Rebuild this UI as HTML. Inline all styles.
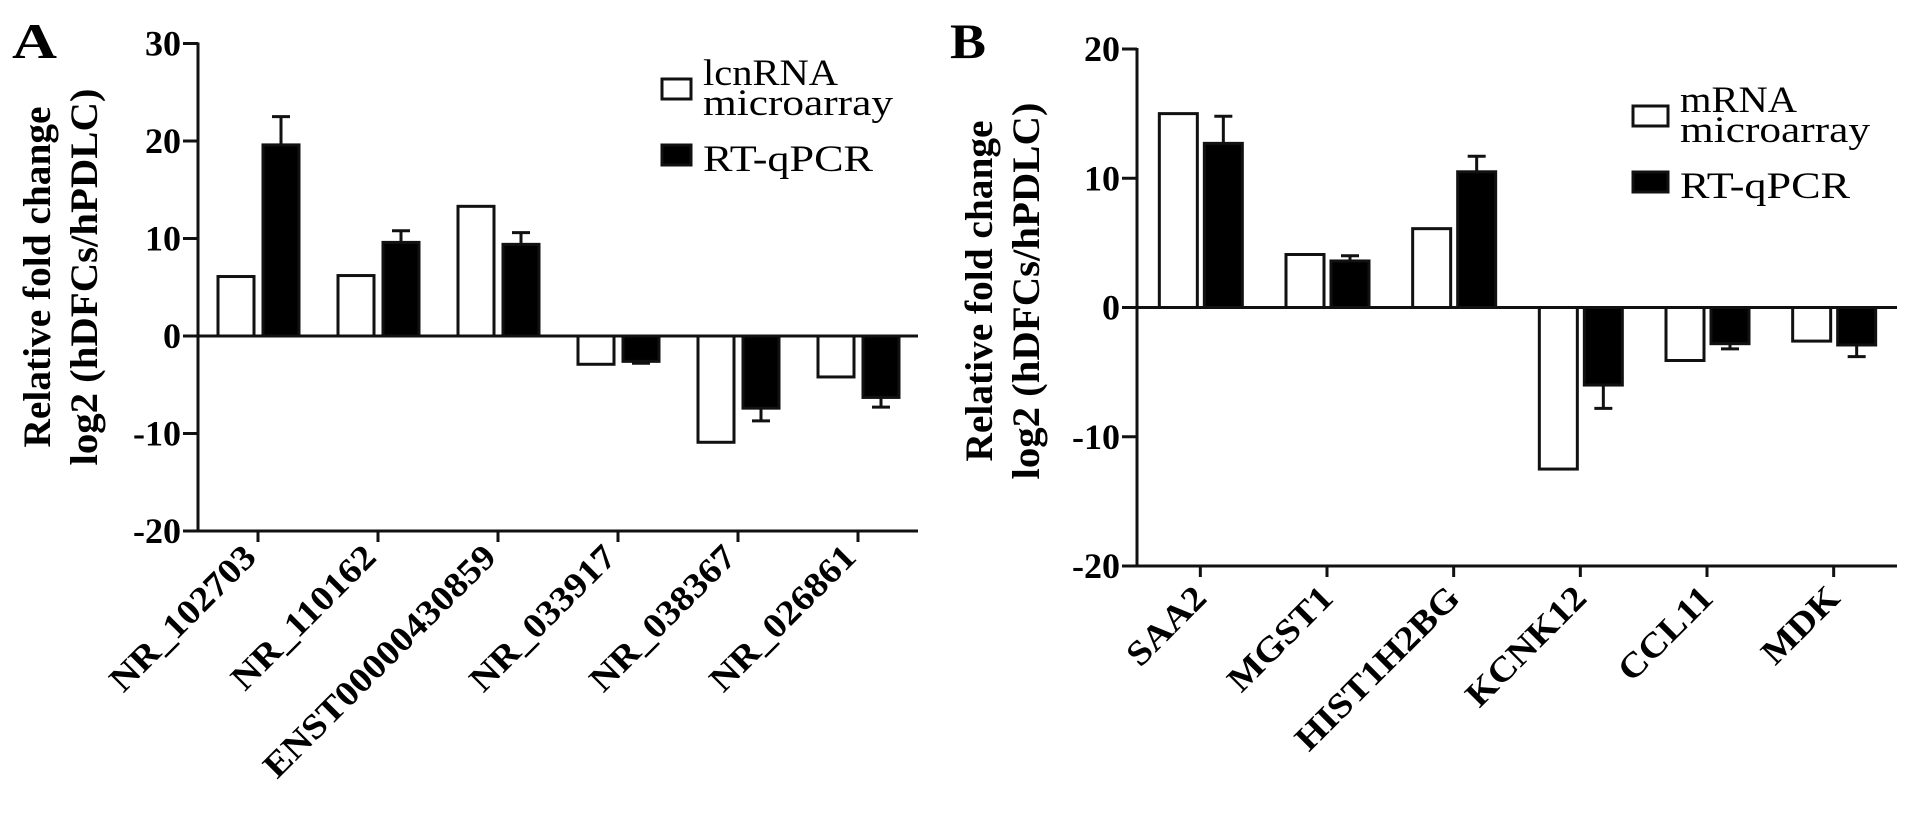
<!DOCTYPE html>
<html><head><meta charset="utf-8"><style>
html,body{margin:0;padding:0;background:#fff;}
svg{display:block;font-family:"Liberation Serif",serif;}
</style></head><body>
<svg id="chart" width="1913" height="814" viewBox="0 0 1913 814" xmlns="http://www.w3.org/2000/svg">
<rect width="1913" height="814" fill="#fff"/>
<text x="12" y="58" font-size="50" font-weight="bold" textLength="45" lengthAdjust="spacingAndGlyphs">A</text>
<text x="950" y="58" font-size="50" font-weight="bold" textLength="36" lengthAdjust="spacingAndGlyphs">B</text>
<g id="pa"></g><g id="pb"></g>
</svg>
<script>
var catsA = ["NR_102703","NR_110162","ENST00000430859","NR_033917","NR_038367","NR_026861"];
var microA = [6.1, 6.2, 13.3, -2.9, -10.9, -4.2];
var pcrA = [19.6, 9.6, 9.4, -2.6, -7.4, -6.3];
var errA = [2.9, 1.2, 1.2, 0.2, 1.3, 1.0];
var ticksA = [30, 20, 10, 0, -10, -20];
var catsB = ["SAA2","MGST1","HIST1H2BG","KCNK12","CCL11","MDK"];
var microB = [15.0, 4.1, 6.1, -12.5, -4.1, -2.6];
var pcrB = [12.7, 3.6, 10.5, -6.0, -2.8, -2.9];
var errB = [2.1, 0.4, 1.2, 1.8, 0.4, 0.9];
var ticksB = [20, 10, 0, -10, -20];

var NS = "http://www.w3.org/2000/svg";
function mk(tag, attrs, parent){var e=document.createElementNS(NS,tag);for(var k in attrs)e.setAttribute(k,attrs[k]);parent.appendChild(e);return e;}
function stretch(el, f){var L=el.getComputedTextLength();el.setAttribute('textLength',(L*f).toFixed(1));el.setAttribute('lengthAdjust','spacingAndGlyphs');}

function panel(g, cfg){
  var yMin=cfg.ticks[cfg.ticks.length-1], yMax=cfg.ticks[0];
  function y(v){return cfg.yBot - (v-yMin)/(yMax-yMin)*(cfg.yBot-cfg.yTop);}
  var step=(cfg.xEnd-cfg.x0)/cfg.cats.length;
  function cx(i){return cfg.x0 + step*(i+0.5);}
  var y0=y(0);
  for(var i=0;i<cfg.cats.length;i++){
    var c=cx(i);
    var vm=cfg.micro[i], vp=cfg.pcr[i];
    var r1=mk('rect',{x:c-cfg.wOff-cfg.bw, y:Math.min(y(vm),y0), width:cfg.bw, height:Math.abs(y(vm)-y0), fill:'#fff', stroke:'#111','stroke-width':3},g);
    
    
    var r2=mk('rect',{x:c+cfg.wOff+1, y:Math.min(y(vp),y0), width:cfg.bw, height:Math.abs(y(vp)-y0), fill:'#000', stroke:'#111','stroke-width':3},g);
    
    
    var ex=c+cfg.wOff+1+cfg.bw/2;
    var ev=vp+(vp>=0?cfg.err[i]:-cfg.err[i]);
    var eg=mk('g',{stroke:'#111','stroke-width':3},g);
    
    
    mk('line',{x1:ex,x2:ex,y1:y(vp),y2:y(ev)},eg);
    mk('line',{x1:ex-9,x2:ex+9,y1:y(ev),y2:y(ev)},eg);
  }
  var zl=mk('line',{x1:cfg.x0,x2:cfg.xEnd,y1:y0,y2:y0,stroke:'#111','stroke-width':3},g);
  
  
  var ya=mk('line',{x1:cfg.x0,x2:cfg.x0,y1:y(yMax)-1,y2:cfg.yBot+1.5,stroke:'#111','stroke-width':3},g);
  
  
  cfg.ticks.forEach(function(t){
    mk('line',{x1:cfg.x0-15,x2:cfg.x0,y1:y(t),y2:y(t),stroke:'#111','stroke-width':3},g);
    var tl=mk('text',{x:cfg.x0-17,y:y(t)+12,'text-anchor':'end','font-size':36,'font-weight':'bold'},g);
    tl.textContent=String(t);
    
    
  });
  var xa=mk('line',{x1:cfg.x0-15,x2:cfg.xEnd,y1:cfg.yBot,y2:cfg.yBot,stroke:'#111','stroke-width':3},g);
  
  
  for(var j=0;j<cfg.cats.length;j++){
    var tx=cx(j);
    mk('line',{x1:tx,x2:tx,y1:cfg.yBot,y2:cfg.yBot+11,stroke:'#111','stroke-width':3},g);
    var ay=cfg.yBot+cfg.ldy, ax=tx+cfg.ldx;
    var lb=mk('text',{x:ax,y:ay,'text-anchor':'end','font-size':35,'font-weight':'bold',transform:'rotate(-45 '+ax+' '+ay+')'},g);
    lb.textContent=cfg.cats[j];
    
    
    stretch(lb,1.1);
  }
  var tt=mk('text',{'font-size':39,'font-weight':'bold','text-anchor':'middle',transform:'translate('+cfg.tx+' '+cfg.ty+') rotate(-90)'},g);
  
  
  var t1=mk('tspan',{x:0,y:0,textLength:341,lengthAdjust:'spacingAndGlyphs'},tt); t1.textContent='Relative fold change';
  var t2=mk('tspan',{x:0,y:cfg.tl,textLength:377,lengthAdjust:'spacingAndGlyphs'},tt); t2.textContent='log2 (hDFCs/hPDLC)';
  var lg=mk('g',{},g);
  
  
  mk('rect',{x:cfg.lx,y:cfg.ly,width:cfg.lw,height:20,fill:'#fff',stroke:'#111','stroke-width':3},lg);
  mk('rect',{x:cfg.lx,y:cfg.ly+66,width:cfg.lw,height:20,fill:'#000',stroke:'#111','stroke-width':3},lg);
  var tx0=cfg.lx+cfg.lw+12;
  var a=mk('text',{x:tx0,y:cfg.ly+6,'font-size':37,textLength:cfg.l1w,lengthAdjust:'spacingAndGlyphs'},lg); a.textContent=cfg.leg1;
  var b=mk('text',{x:tx0,y:cfg.ly+36,'font-size':37,textLength:190,lengthAdjust:'spacingAndGlyphs'},lg); b.textContent='microarray';
  var d=mk('text',{x:tx0,y:cfg.ly+92,'font-size':37,textLength:170,lengthAdjust:'spacingAndGlyphs'},lg); d.textContent='RT-qPCR';
}
panel(document.getElementById('pa'),{cats:catsA,micro:microA,pcr:pcrA,err:errA,ticks:ticksA,
  x0:198,xEnd:918,yTop:43.5,yBot:531,bw:36,wOff:4,tx:50,ty:277,tl:47,ldx:0,ldy:28,lx:662,ly:79,lw:29,leg1:'lcnRNA',l1w:135});
panel(document.getElementById('pb'),{cats:catsB,micro:microB,pcr:pcrB,err:errB,ticks:ticksB,
  x0:1137,xEnd:1897,yTop:49,yBot:566,bw:38,wOff:3,tx:992,ty:291,tl:47,ldx:8,ldy:34,lx:1633,ly:106,lw:35,leg1:'mRNA',l1w:117});
document.getElementById('pa');
document.getElementById('pa');
document.getElementById('pb');
document.getElementById('pb');
</script>
</body></html>
